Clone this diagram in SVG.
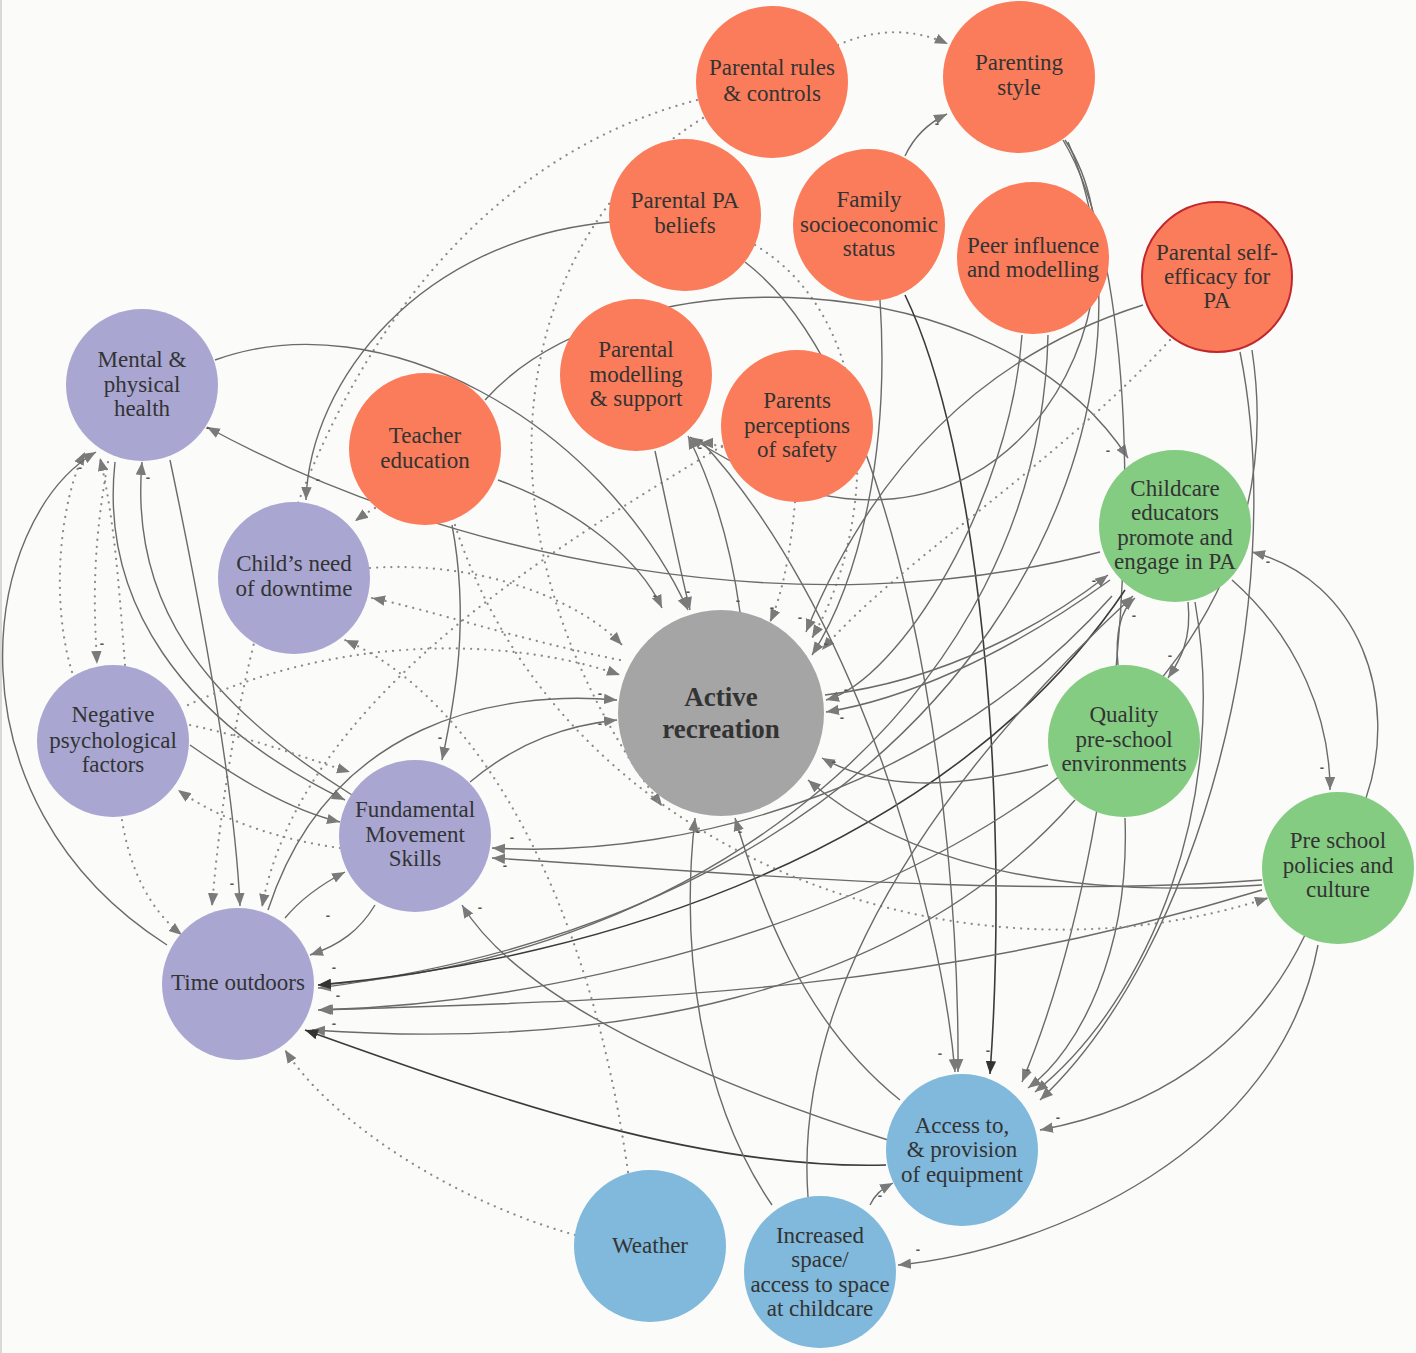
<svg xmlns="http://www.w3.org/2000/svg" width="1416" height="1353" viewBox="0 0 1416 1353">
<defs>
<marker id="a" viewBox="0 0 10 10" refX="10" refY="5" markerWidth="13" markerHeight="13" markerUnits="userSpaceOnUse" orient="auto"><path d="M0,1 L10,5 L0,9 z" fill="#7a7a7a"/></marker>
<marker id="d" viewBox="0 0 10 10" refX="10" refY="5" markerWidth="13" markerHeight="13" markerUnits="userSpaceOnUse" orient="auto"><path d="M0,1 L10,5 L0,9 z" fill="#333"/></marker>
<style>
.e{fill:none;stroke:#6a6a6a;stroke-width:1.4;marker-end:url(#a)}
.k{fill:none;stroke:#3a3a3a;stroke-width:1.6;marker-end:url(#d)}
.t{fill:none;stroke:#8a8a8a;stroke-width:2.2;stroke-dasharray:0.1 7;stroke-linecap:round;marker-end:url(#a)}
.o{fill:#FA7C5A}
.p{fill:#A9A7D2}
.g{fill:#84CC82}
.b{fill:#80B9DC}
.n text{font-family:"Liberation Serif",serif;font-size:23px;fill:#333;text-anchor:middle}
.s{font-family:"Liberation Sans",sans-serif;font-size:13px;font-weight:bold;fill:#555;text-anchor:middle}
</style>
</defs>
<rect x="0" y="0" width="1416" height="1353" fill="#FBFBF9"/>
<line x1="1" y1="0" x2="1" y2="1353" stroke="#d8d8d8" stroke-width="2"/>
<g id="connectors">
<path class="t" d="M838,45 Q895,20 948,44"/>
<path class="e" d="M905,156 Q918,128 947,114"/>
<path class="t" d="M697,100 C430,170 250,450 212,906"/>
<path class="t" d="M703,118 C520,230 450,520 662,806"/>
<path class="e" d="M610,222 C420,240 310,380 306,500"/>
<path class="e" d="M745,262 C900,380 960,800 958,1072"/>
<path class="t" d="M755,245 C880,320 880,520 812,638"/>
<path class="e" d="M485,400 C620,250 1000,260 1128,458"/>
<path class="e" d="M880,300 C890,450 860,580 812,655"/>
<path class="k" d="M905,295 C980,450 1010,800 990,1074"/>
<path class="e" d="M1022,335 C1010,500 900,680 826,700"/>
<path class="e" d="M1048,335 C1040,700 700,960 318,985"/>
<path class="e" d="M1063,140 C1160,300 1140,800 1022,1082"/>
<path class="e" d="M1068,142 C1180,400 1000,900 318,988"/>
<path class="e" d="M1065,140 C1170,300 1000,640 690,437"/>
<path class="e" d="M1143,305 C1000,350 880,450 806,632"/>
<path class="t" d="M1170,340 C1050,470 900,560 822,650"/>
<path class="t" d="M620,660 C520,640 430,610 372,598"/>
<path class="e" d="M1240,352 C1290,600 1200,950 1040,1100"/>
<path class="e" d="M1252,350 C1320,800 700,1000 318,1010"/>
<path class="e" d="M1100,552 C800,630 450,560 207,427"/>
<path class="e" d="M1188,602 C1192,640 1180,660 1168,678"/>
<path class="e" d="M1118,665 C1115,635 1120,610 1135,598"/>
<path class="e" d="M1232,580 C1300,640 1330,720 1330,790"/>
<path class="e" d="M1366,798 C1400,700 1360,580 1252,552"/>
<path class="e" d="M825,695 C950,680 1050,620 1108,575"/>
<path class="e" d="M1112,596 C950,780 700,860 492,848"/>
<path class="k" d="M1125,590 C950,850 600,960 318,985"/>
<path class="e" d="M1110,580 C1000,660 900,700 826,712"/>
<path class="e" d="M1262,890 C900,1000 600,1000 320,1010"/>
<path class="e" d="M1262,880 C1000,900 700,870 492,858"/>
<path class="e" d="M1262,885 C1050,900 900,860 808,780"/>
<path class="t" d="M455,525 C560,850 950,1000 1268,898"/>
<path class="e" d="M1305,935 C1250,1050 1150,1110 1040,1130"/>
<path class="e" d="M1318,945 C1280,1150 1050,1250 898,1265"/>
<path class="e" d="M1048,765 C950,790 880,790 822,758"/>
<path class="e" d="M1125,818 C1130,950 1080,1050 1028,1088"/>
<path class="e" d="M1075,800 C900,1000 600,1050 312,1030"/>
<path class="e" d="M1195,602 C1230,800 1150,1000 1035,1092"/>
<path class="k" d="M886,1165 C700,1170 500,1100 305,1030"/>
<path class="e" d="M888,1140 C700,1080 520,1000 462,905"/>
<path class="e" d="M900,1100 C800,1020 760,900 735,818"/>
<path class="e" d="M870,1205 C875,1195 880,1190 893,1183"/>
<path class="e" d="M772,1205 C700,1100 680,950 695,818"/>
<path class="e" d="M808,1197 C790,950 1000,720 1133,596"/>
<path class="t" d="M575,1235 C450,1200 330,1120 285,1050"/>
<path class="t" d="M628,1172 C590,900 480,700 345,640"/>
<path class="e" d="M215,360 C380,300 600,420 688,610"/>
<path class="e" d="M170,460 C210,650 235,800 240,906"/>
<path class="t" d="M108,462 C90,560 95,620 97,664"/>
<path class="t" d="M72,672 C50,600 60,500 85,452"/>
<path class="t" d="M125,665 C120,600 115,520 100,458"/>
<path class="e" d="M167,945 C-60,800 -20,520 96,452"/>
<path class="e" d="M352,795 C200,700 130,600 142,462"/>
<path class="e" d="M115,462 C100,600 180,720 345,800"/>
<path class="e" d="M190,745 C240,780 290,810 340,822"/>
<path class="t" d="M340,848 C280,840 220,820 178,790"/>
<path class="t" d="M122,820 C130,870 150,910 182,935"/>
<path class="t" d="M722,446 C550,550 300,700 262,907"/>
<path class="e" d="M285,918 C300,900 320,885 345,872"/>
<path class="e" d="M375,905 C360,930 340,945 310,955"/>
<path class="e" d="M268,910 C330,720 500,690 617,700"/>
<path class="e" d="M470,782 C520,740 570,725 617,720"/>
<path class="e" d="M452,525 C470,620 455,700 442,760"/>
<path class="e" d="M498,480 C580,510 640,560 662,608"/>
<path class="t" d="M375,508 C368,512 362,516 355,521"/>
<path class="t" d="M370,568 C480,560 580,600 622,645"/>
<path class="t" d="M188,705 C350,630 520,640 620,675"/>
<path class="t" d="M190,725 C260,740 310,760 350,772"/>
<path class="e" d="M655,451 C670,520 680,570 690,610"/>
<path class="e" d="M740,612 C730,540 710,480 688,436"/>
<path class="e" d="M700,440 C850,600 940,900 955,1072"/>
<path class="t" d="M795,502 C790,560 780,600 770,622"/>
<path class="t" d="M722,447 C715,445 708,443 700,443"/>
</g>
<g id="signs" class="s">
<text x="937" y="128">-</text>
<text x="655" y="600">-</text>
<text x="688" y="596">-</text>
<text x="738" y="605">-</text>
<text x="772" y="612">-</text>
<text x="800" y="622">-</text>
<text x="826" y="648">-</text>
<text x="846" y="694">-</text>
<text x="842" y="722">-</text>
<text x="834" y="766">-</text>
<text x="600" y="698">-</text>
<text x="600" y="728">-</text>
<text x="698" y="836">-</text>
<text x="740" y="836">-</text>
<text x="1108" y="455">-</text>
<text x="1094" y="585">-</text>
<text x="1134" y="620">-</text>
<text x="1170" y="660">-</text>
<text x="1268" y="566">-</text>
<text x="1322" y="772">-</text>
<text x="512" y="842">-</text>
<text x="505" y="870">-</text>
<text x="480" y="912">-</text>
<text x="334" y="972">-</text>
<text x="338" y="1000">-</text>
<text x="334" y="1028">-</text>
<text x="328" y="920">-</text>
<text x="232" y="888">-</text>
<text x="208" y="432">-</text>
<text x="148" y="482">-</text>
<text x="102" y="648">-</text>
<text x="80" y="472">-</text>
<text x="440" y="742">-</text>
<text x="318" y="484">-</text>
<text x="940" y="1058">-</text>
<text x="988" y="1055">-</text>
<text x="1028" y="1074">-</text>
<text x="1058" y="1122">-</text>
<text x="918" y="1254">-</text>
<text x="880" y="1200">-</text>
<text x="700" y="452">-</text>
</g>
<g id="n-prc" class="n"><circle class="o" cx="772" cy="82" r="76"/><text x="772" y="75">Parental rules</text><text x="772" y="101">&amp; controls</text></g>
<g id="n-ps" class="n"><circle class="o" cx="1019" cy="77" r="76"/><text x="1019" y="70">Parenting</text><text x="1019" y="95">style</text></g>
<g id="n-ppb" class="n"><circle class="o" cx="685" cy="215" r="76"/><text x="685" y="208">Parental PA</text><text x="685" y="233">beliefs</text></g>
<g id="n-fses" class="n"><circle class="o" cx="869" cy="225" r="76"/><text x="869" y="207">Family</text><text x="869" y="232">socioeconomic</text><text x="869" y="256">status</text></g>
<g id="n-pim" class="n"><circle class="o" cx="1033" cy="258" r="76"/><text x="1033" y="253">Peer influence</text><text x="1033" y="277">and modelling</text></g>
<g id="n-pse" class="n"><circle class="o" cx="1217" cy="277" r="75" stroke="#C1272D" stroke-width="2"/><text x="1217" y="260">Parental self-</text><text x="1217" y="284">efficacy for</text><text x="1217" y="308">PA</text></g>
<g id="n-pms" class="n"><circle class="o" cx="636" cy="375" r="76"/><text x="636" y="357">Parental</text><text x="636" y="382">modelling</text><text x="636" y="406">&amp; support</text></g>
<g id="n-pps" class="n"><circle class="o" cx="797" cy="426" r="76"/><text x="797" y="408">Parents</text><text x="797" y="433">perceptions</text><text x="797" y="457">of safety</text></g>
<g id="n-te" class="n"><circle class="o" cx="425" cy="449" r="76"/><text x="425" y="443">Teacher</text><text x="425" y="468">education</text></g>
<g id="n-mph" class="n"><circle class="p" cx="142" cy="385" r="76"/><text x="142" y="367">Mental &amp;</text><text x="142" y="392">physical</text><text x="142" y="416">health</text></g>
<g id="n-cnd" class="n"><circle class="p" cx="294" cy="578" r="76"/><text x="294" y="571">Child’s need</text><text x="294" y="596">of downtime</text></g>
<g id="n-npf" class="n"><circle class="p" cx="113" cy="741" r="76"/><text x="113" y="722">Negative</text><text x="113" y="748">psychological</text><text x="113" y="772">factors</text></g>
<g id="n-fms" class="n"><circle class="p" cx="415" cy="836" r="76"/><text x="415" y="817">Fundamental</text><text x="415" y="842">Movement</text><text x="415" y="866">Skills</text></g>
<g id="n-to" class="n"><circle class="p" cx="238" cy="984" r="76"/><text x="238" y="990">Time outdoors</text></g>
<g id="n-ar" class="n"><circle cx="721" cy="713" r="103" fill="#A5A5A5"/><text x="721" y="706" font-weight="bold" style="font-size:27px">Active</text><text x="721" y="738" font-weight="bold" style="font-size:27px">recreation</text></g>
<g id="n-ce" class="n"><circle class="g" cx="1175" cy="526" r="76"/><text x="1175" y="496">Childcare</text><text x="1175" y="520">educators</text><text x="1175" y="545">promote and</text><text x="1175" y="569">engage in PA</text></g>
<g id="n-qpe" class="n"><circle class="g" cx="1124" cy="741" r="76"/><text x="1124" y="722">Quality</text><text x="1124" y="747">pre-school</text><text x="1124" y="771">environments</text></g>
<g id="n-psp" class="n"><circle class="g" cx="1338" cy="868" r="76"/><text x="1338" y="848">Pre school</text><text x="1338" y="873">policies and</text><text x="1338" y="897">culture</text></g>
<g id="n-ape" class="n"><circle class="b" cx="962" cy="1150" r="76"/><text x="962" y="1133">Access to,</text><text x="962" y="1157">&amp; provision</text><text x="962" y="1182">of equipment</text></g>
<g id="n-w" class="n"><circle class="b" cx="650" cy="1246" r="76"/><text x="650" y="1253">Weather</text></g>
<g id="n-is" class="n"><circle class="b" cx="820" cy="1272" r="76"/><text x="820" y="1243">Increased</text><text x="820" y="1267">space/</text><text x="820" y="1292">access to space</text><text x="820" y="1316">at childcare</text></g>
</svg>
